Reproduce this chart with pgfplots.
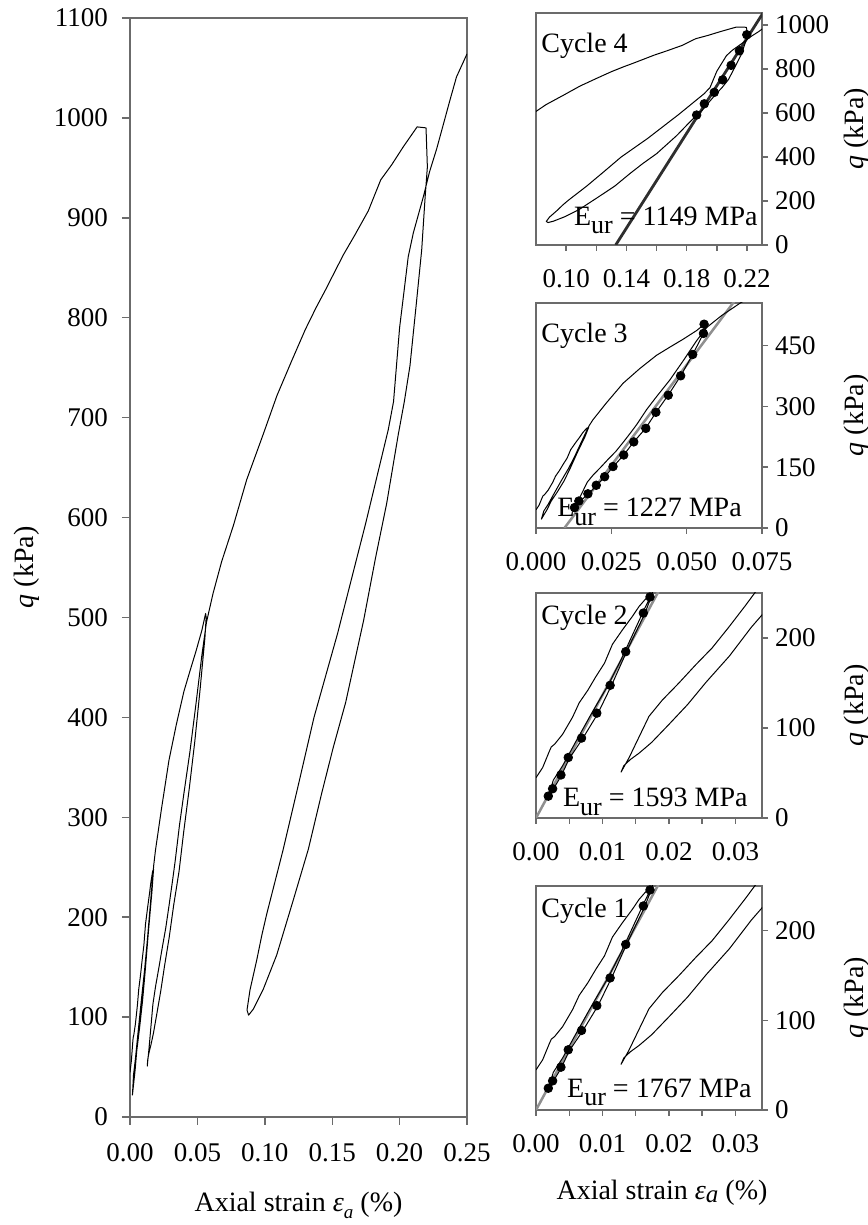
\documentclass[border=0pt]{standalone}
\usepackage{fontspec}
\setmainfont{Liberation Serif}
\usepackage{pgfplots}
\usepackage{pgfplotstable}
\pgfplotsset{compat=1.18}

\definecolor{framegray}{gray}{0.42}
\definecolor{fitgray}{gray}{0.56}
\definecolor{fitdark}{gray}{0.18}

\newcommand{\ticksize}{\fontsize{13.5}{15}\selectfont}
\newcommand{\labelsize}{\fontsize{14}{16}\selectfont}
\newcommand{\qlabel}{{\itshape q} (kPa)}
\newcommand{\Eur}[1]{E\raisebox{-0.3em}{\fontsize{13}{13}\selectfont ur} = #1 MPa}

% Full unload-reload test record: axial strain (%) and deviator stress q (kPa)
\pgfplotstableread{
eps q
0.0000 44.8
0.0010 56
0.0020 74
0.0023 79
0.0028 82
0.0040 93
0.0055 112
0.0065 128
0.0078 142
0.0090 157
0.0103 172
0.0115 193
0.0130 209
0.0145 224
0.0155 235
0.0168 246
0.0175 248
0.0172 243
0.0163 226
0.0137 186
0.0114 148
0.0093 116
0.0070 88
0.0050 66
0.0038 47
0.0026 32
0.0018 22
0.0026 42
0.0040 58
0.0060 85
0.0085 118
0.0108 147
0.0128 176
0.0148 208
0.0163 232
0.0176 252
0.0189 267
0.0233 308
0.0289 357
0.0344 393
0.0400 426
0.0444 446
0.0489 466
0.0533 487
0.0561 504
0.0565 500
0.0556 480
0.0520 428
0.0480 375
0.0439 328
0.0398 285
0.0364 246
0.0324 212
0.0291 180
0.0256 151
0.0228 126
0.0200 104
0.0174 84
0.0155 72
0.0142 65
0.0132 58
0.0128 51
0.0140 67
0.0155 90
0.0170 113
0.0190 131
0.0215 150
0.0240 170
0.0265 189
0.0290 212
0.0315 236
0.0335 256
0.0367 292
0.0400 324
0.0444 365
0.0489 413
0.0533 462
0.0567 495
0.0616 524
0.0680 556
0.0767 592
0.0866 638
0.0990 684
0.1090 722
0.1200 757
0.1300 788
0.1380 810
0.1447 827
0.1583 863
0.1669 883
0.1768 907
0.1860 938
0.1941 953
0.2027 971
0.2130 991
0.2196 990
0.2206 951
0.2188 918
0.2164 868
0.2127 818
0.2077 752
0.2035 716
0.1990 683
0.1904 614
0.1822 560
0.1733 497
0.1600 415
0.1508 370
0.1422 324
0.1323 268
0.1211 217
0.1088 162
0.0989 128
0.0915 108
0.0880 102
0.0868 107
0.0890 127
0.0940 157
0.0978 182
0.1014 203
0.1135 267
0.1250 333
0.1365 400
0.1540 484
0.1748 594
0.1916 688
0.1955 716
0.2000 790
0.2064 861
0.2102 885
0.2176 921
0.2222 946
0.2275 969
0.2374 1018
0.2422 1041
0.2500 1064
}\testrecord

% Points used for the unload-reload modulus of each cycle
\pgfplotstableread{
eps q
0.00185 24.3
0.00250 32.5
0.00375 47.8
0.00485 67.2
0.00685 88.8
0.00915 116.5
0.01115 147.4
0.01350 184.8
0.01615 227.7
0.01715 245.6
}\fitptsA

\pgfplotstableread{
eps q
0.01278 50.3
0.01422 66.5
0.01722 84.3
0.02000 105.4
0.02278 126.5
0.02556 151.6
0.02911 180.0
0.03244 212.4
0.03644 245.7
0.03978 285.4
0.04389 327.6
0.04800 375.4
0.05200 428.0
0.05556 480.0
0.05578 502.7
}\fitptsC

\pgfplotstableread{
eps q
0.1866 591
0.1917 642
0.1983 694
0.2039 751
0.2095 817
0.2150 883
0.2199 956
}\fitptsD

% Fitted unload-reload lines
\pgfplotstableread{
eps q
0.0000 0
0.0200 273.2
}\lineA

\pgfplotstableread{
eps q
0.00944 0
0.06610 562
}\lineC

\pgfplotstableread{
eps q
0.1329 0
0.2330 1080
}\lineD

\pgfplotsset{
  /pgf/number format/assume math mode=true,
  /pgf/number format/1000 sep={},
  base/.style={
    scale only axis,
    scaled x ticks=false,
    scaled y ticks=false,
    axis line style={framegray, line width=0.7pt},
    every tick/.style={framegray, line width=0.7pt},
    tick align=outside,
    tick label style={font=\ticksize},
    label style={font=\labelsize},
    every axis plot/.append style={line join=round},
  },
  curve/.style={black, line width=0.5pt, no markers},
  dots/.style={only marks, mark=*, mark size=2.15pt, black},
  panel/.style={
    base,
    width=113pt,
    major tick length=3pt,
    minor tick length=3pt,
    xtick pos=bottom,
    ytick pos=right,
    yticklabel pos=right,
    xticklabel style={yshift=-5.5pt},
    ylabel={\qlabel},
    ylabel style={at={(rel axis cs:1.42,0.5)}, anchor=center},
  },
  xfmt/.style={xticklabel style={/pgf/number format/fixed, /pgf/number format/fixed zerofill, /pgf/number format/precision=#1}},
}

\begin{document}
\begin{tikzpicture}
\useasboundingbox (0,0) rectangle (433.5pt,612.5pt);

% Whole test
\begin{axis}[
  base,
  at={(65pt,54pt)}, anchor=south west,
  width=168.5pt, height=549.5pt,
  xmin=0, xmax=0.25, ymin=0, ymax=1100,
  major tick length=4pt,
  xtick={0,0.05,0.1,0.15,0.2,0.25},
  ytick={0,100,...,1100},
  xtick pos=bottom, ytick pos=left,
  xfmt=2,
  xticklabel style={yshift=-5.5pt},
  yticklabel style={xshift=-3.5pt},
  xlabel={Axial strain {\itshape ε}\raisebox{-0.55ex}{\fontsize{9.5}{10}\selectfont\itshape a} (\%)},
  xlabel style={at={(rel axis cs:0.5,-0.0801)}, anchor=center},
  ylabel={\qlabel},
  ylabel style={at={(rel axis cs:-0.3056,0.5)}, anchor=center},
]
\addplot[curve] table[x=eps, y=q] {\testrecord};
\end{axis}

% Cycle 4
\begin{axis}[
  panel,
  at={(268pt,490pt)}, anchor=south west,
  height=116pt,
  xmin=0.08, xmax=0.23, ymin=0, ymax=1055,
  xtick={0.10,0.14,0.18,0.22},
  minor xtick={0.12,0.16,0.20},
  ytick={0,200,...,1000},
  xfmt=2,
]
\addplot[fitdark, line width=1.4pt] table[x=eps, y=q] {\lineD};
\addplot[curve] table[x=eps, y=q] {\testrecord};
\addplot[dots] table[x=eps, y=q] {\fitptsD};
\node[anchor=north west, inner sep=0, font=\labelsize] at (rel axis cs:0.022,0.914) {Cycle 4};
\node[anchor=base east, inner sep=0, font=\labelsize] at (rel axis cs:0.982,0.086) {\Eur{1149}};
\end{axis}

% Cycle 3
\begin{axis}[
  panel,
  at={(268pt,348.5pt)}, anchor=south west,
  height=112.5pt,
  xmin=0, xmax=0.075, ymin=0, ymax=555,
  xtick={0,0.025,0.05,0.075},
  ytick={0,150,300,450},
  xfmt=3,
]
\addplot[fitgray, line width=1.25pt] table[x=eps, y=q] {\lineC};
\addplot[curve] table[x=eps, y=q] {\testrecord};
\addplot[dots] table[x=eps, y=q] {\fitptsC};
\node[anchor=north west, inner sep=0, font=\labelsize] at (rel axis cs:0.022,0.911) {Cycle 3};
\node[anchor=base east, inner sep=0, font=\labelsize] at (rel axis cs:0.912,0.049) {\Eur{1227}};
\end{axis}

% Cycle 2
\begin{axis}[
  panel,
  at={(268pt,203.5pt)}, anchor=south west,
  height=112.5pt,
  xmin=0, xmax=0.034, ymin=0, ymax=250,
  xtick={0,0.01,0.02,0.03},
  minor xtick={0.005,0.015,0.025},
  ytick={0,100,200},
  xfmt=2,
]
\addplot[fitgray, line width=1.25pt] table[x=eps, y=q] {\lineA};
\addplot[curve] table[x=eps, y=q] {\testrecord};
\addplot[dots] table[x=eps, y=q] {\fitptsA};
\node[anchor=north west, inner sep=0, font=\labelsize] at (rel axis cs:0.022,0.947) {Cycle 2};
\node[anchor=base east, inner sep=0, font=\labelsize] at (rel axis cs:0.938,0.049) {\Eur{1593}};
\end{axis}

% Cycle 1
\begin{axis}[
  panel,
  at={(268pt,57.5pt)}, anchor=south west,
  height=112pt,
  xmin=0, xmax=0.034, ymin=0, ymax=250,
  xtick={0,0.01,0.02,0.03},
  minor xtick={0.005,0.015,0.025},
  ytick={0,100,200},
  xfmt=2,
  xlabel={Axial strain {\itshape ε}\raisebox{-0.25ex}{\fontsize{12.5}{13}\selectfont\itshape a} (\%)},
  xlabel style={at={(rel axis cs:0.5575,-0.3705)}, anchor=center},
]
\addplot[fitgray, line width=1.25pt] table[x=eps, y=q] {\lineA};
\addplot[curve] table[x=eps, y=q] {\testrecord};
\addplot[dots] table[x=eps, y=q] {\fitptsA};
\node[anchor=north west, inner sep=0, font=\labelsize] at (rel axis cs:0.022,0.946) {Cycle 1};
\node[anchor=base east, inner sep=0, font=\labelsize] at (rel axis cs:0.956,0.058) {\Eur{1767}};
\end{axis}
\end{tikzpicture}
\end{document}
